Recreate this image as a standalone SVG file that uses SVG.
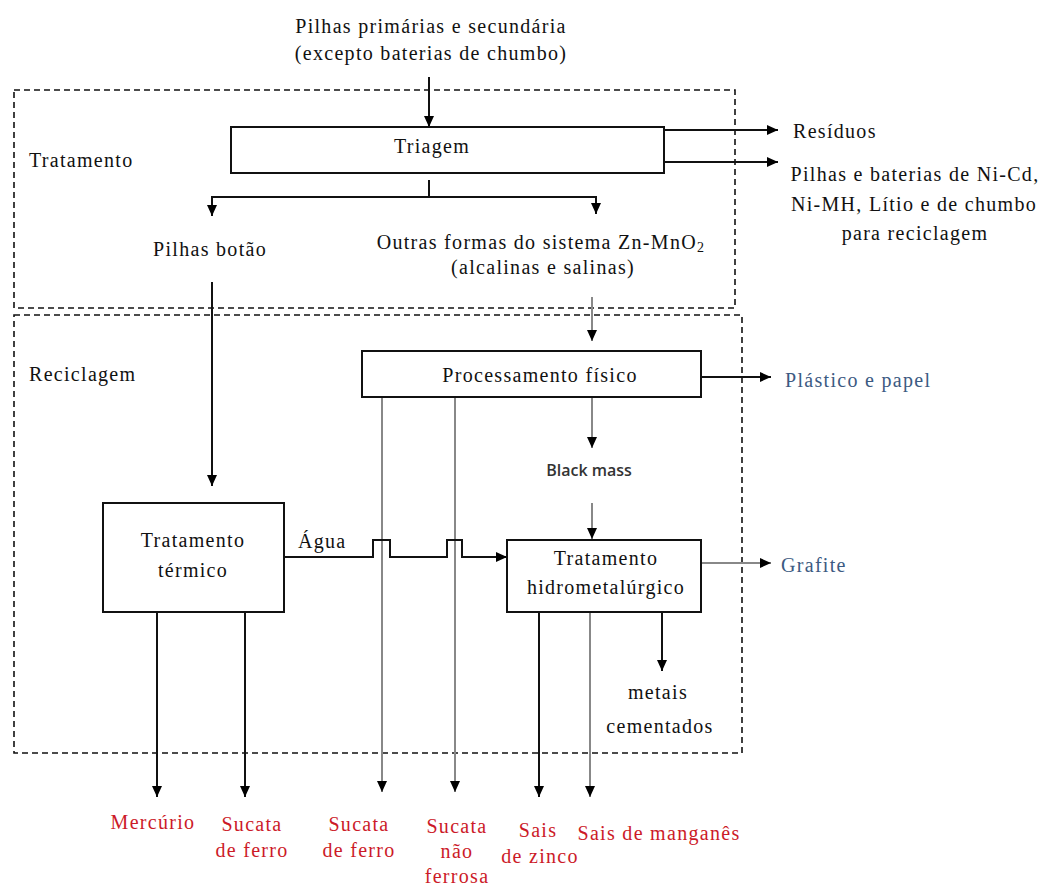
<svg xmlns="http://www.w3.org/2000/svg" width="1042" height="887" viewBox="0 0 1042 887" font-family="Liberation Serif" font-size="20">
<defs>
<marker id="ah" markerUnits="userSpaceOnUse" markerWidth="12" markerHeight="12" viewBox="0 0 12 12" refX="11" refY="6" orient="auto">
<path d="M0,1 L11,6 L0,11 Z" fill="#000"/>
</marker>
</defs>
<style>
.t{fill:#111}
.m{text-anchor:middle}
.red{fill:#cc1a28}
.blue{fill:#3c5a82}
.sans{fill:#333}
.box{fill:#fff;stroke:#111;stroke-width:2}
.dash{fill:none;stroke:#111;stroke-width:1.6;stroke-dasharray:6 4}
.ln{fill:none;stroke:#111;stroke-width:2}
.gl{fill:none;stroke:#888;stroke-width:2}
.ar{marker-end:url(#ah)}
</style>
<rect width="1042" height="887" fill="#fff"/>
<g letter-spacing="1.3">
<g id="regions">
<rect class="dash" x="14" y="90" width="721" height="218"/>
<rect class="dash" x="14" y="315" width="728" height="438"/>
<text class="t" x="29" y="167">Tratamento</text>
<text class="t" x="29" y="381">Reciclagem</text>
</g>
<g id="connectors">
<line class="ln ar" x1="429" y1="77" x2="429" y2="127"/>
<line class="ln" x1="429" y1="180" x2="429" y2="197"/>
<polyline class="ln ar" points="429,197 212,197 212,216"/>
<polyline class="ln ar" points="429,197 596,197 596,214"/>
<line class="ln ar" x1="664" y1="130" x2="778" y2="130"/>
<line class="ln ar" x1="664" y1="162" x2="778" y2="162"/>
<line class="ln ar" x1="212" y1="282" x2="212" y2="486"/>
<line class="gl ar" x1="592" y1="297" x2="592" y2="341"/>
<line class="ln ar" x1="701" y1="377" x2="771" y2="377"/>
<line class="gl ar" x1="592" y1="397" x2="592" y2="448"/>
<line class="gl ar" x1="592" y1="503" x2="592" y2="539"/>
<line class="gl ar" x1="701" y1="563" x2="771" y2="563"/>
<line class="gl ar" x1="382" y1="397" x2="382" y2="792"/>
<line class="gl ar" x1="455" y1="397" x2="455" y2="792"/>
<polyline class="ln ar" points="284,557 373,557 373,540 390,540 390,557 447,557 447,540 462,540 462,557 507,557"/>
<line class="ln ar" x1="157" y1="612" x2="157" y2="797"/>
<line class="ln ar" x1="245" y1="612" x2="245" y2="797"/>
<line class="ln ar" x1="539" y1="612" x2="539" y2="797"/>
<line class="gl ar" x1="590" y1="612" x2="590" y2="797"/>
<line class="ln ar" x1="662" y1="612" x2="662" y2="671"/>
<text class="t" x="298" y="548">Água</text>
</g>
<g id="source">
<text class="t m" x="431" y="33">Pilhas primárias e secundária</text>
<text class="t m" x="431" y="60">(excepto baterias de chumbo)</text>
</g>
<g id="triagem">
<rect class="box" x="231" y="127" width="433" height="46"/>
<text class="t m" x="432" y="153">Triagem</text>
</g>
<g id="residuos">
<text class="t" x="793" y="138">Resíduos</text>
</g>
<g id="outras-pilhas">
<text class="t m" x="915" y="181">Pilhas e baterias de Ni-Cd,</text>
<text class="t m" x="914" y="211">Ni-MH, Lítio e de chumbo</text>
<text class="t m" x="915" y="240">para reciclagem</text>
</g>
<g id="pilhas-botao">
<text class="t m" x="210" y="256">Pilhas botão</text>
</g>
<g id="zn-mno2">
<text class="t m" x="541" y="249">Outras formas do sistema Zn-MnO<tspan font-size="14" dy="3">2</tspan></text>
<text class="t m" x="543" y="274">(alcalinas e salinas)</text>
</g>
<g id="processamento">
<rect class="box" x="362" y="351" width="339" height="46"/>
<text class="t m" x="540" y="382">Processamento físico</text>
</g>
<g id="plastico">
<text class="t blue" x="785" y="387">Plástico e papel</text>
</g>
<g id="black-mass">
<text class="sans m" x="589" y="476" font-family="Open Sans" font-size="16" font-weight="600" letter-spacing="0">Black mass</text>
</g>
<g id="hidro">
<rect class="box" x="507" y="540" width="194" height="72"/>
<text class="t m" x="606" y="565">Tratamento</text>
<text class="t m" x="606" y="594">hidrometalúrgico</text>
</g>
<g id="grafite">
<text class="t blue" x="781" y="572">Grafite</text>
</g>
<g id="termico">
<rect class="box" x="103" y="503" width="181" height="109"/>
<text class="t m" x="193" y="547">Tratamento</text>
<text class="t m" x="193" y="577">térmico</text>
</g>
<g id="metais">
<text class="t m" x="658" y="699">metais</text>
<text class="t m" x="660" y="733">cementados</text>
</g>
<g id="mercurio"><text class="t m red" x="153" y="829">Mercúrio</text></g>
<g id="sucata-ferro-1">
<text class="t m red" x="252" y="831">Sucata</text>
<text class="t m red" x="252" y="857">de ferro</text>
</g>
<g id="sucata-ferro-2">
<text class="t m red" x="359" y="831">Sucata</text>
<text class="t m red" x="359" y="857">de ferro</text>
</g>
<g id="sucata-nao-ferrosa">
<text class="t m red" x="457" y="833">Sucata</text>
<text class="t m red" x="457" y="858">não</text>
<text class="t m red" x="457" y="883">ferrosa</text>
</g>
<g id="sais-zinco">
<text class="t m red" x="538" y="837">Sais</text>
<text class="t m red" x="540" y="863">de zinco</text>
</g>
<g id="sais-manganes"><text class="t m red" x="659" y="840">Sais de manganês</text></g>
</g>
</svg>
